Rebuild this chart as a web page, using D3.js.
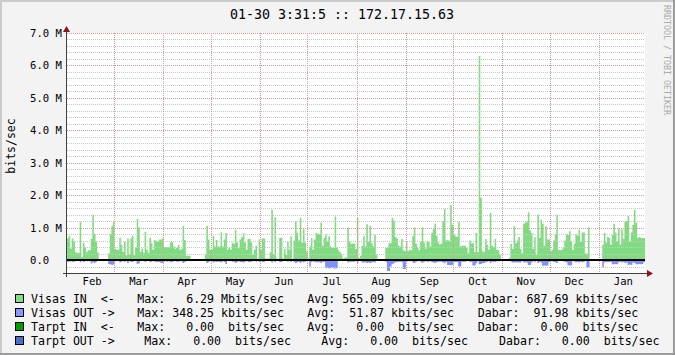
<!DOCTYPE html>
<html>
<head>
<meta charset="utf-8">
<script src="https://cdn.jsdelivr.net/npm/d3@7"></script>
<style>
  body { margin: 0; background: #fff; }
  svg text { font-family: "DejaVu Sans Mono", monospace; fill: #000; white-space: pre; }
</style>
</head>
<body>
<div id="chart"></div>
<script>
// daily averages, Mbit/s, one value per day starting 01-30 (null = no data)
const visasIn = [
  0.66, 0.75, 0.35, 0.66, 0.57, 0.24, 0.22, 0.22, 1.18, 0.09,
  0.53, 0.41, 0.24, 0.30, 0.30, 0.65, 1.40, 0.80, 0.57, 0.24,
  null, null, null, null, null, null, 0.20, 0.80, 1.05, 1.19,
  0.34, 0.32, 0.32, 0.69, 0.46, 0.25, 0.56, 0.15, 0.66, 0.17,
  0.66, 0.75, 0.15, 0.39, 1.27, 1.00, 0.25, 0.35, 0.22, 0.87,
  0.32, 0.22, 0.69, 0.52, 0.32, 0.62, 0.58, 0.58, 0.63, 0.63,
  0.66, 0.40, 0.39, 0.40, 0.39, 0.55, 0.55, 0.42, 0.35, 0.38,
  0.46, 0.30, 0.35, 1.06, 0.62, 0.13, 0.13, 0.13, null, null,
  null, null, null, null, null, null, null, 0.18, 1.06, 0.63,
  0.32, 0.32, 0.75, 0.42, 0.62, 0.42, 0.42, 0.86, 0.42, 0.63,
  0.83, 0.32, 0.39, 0.32, 0.53, 0.50, 0.93, 0.54, 0.36, 0.63,
  0.70, 0.83, 0.54, 0.32, 0.65, 0.65, 0.54, 0.16, 0.32, 0.44,
  0.05, 0.63, 0.32, 0.66, 0.66, 0.05, 0.05, 0.05, 0.24, 1.55,
  0.16, 1.32, 0.05, 0.05, 0.69, 0.69, 0.05, 0.35, 0.16, 0.56,
  0.32, 0.73, 0.05, 0.60, 1.20, 0.83, 0.60, 1.30, 0.53, 0.95,
  0.53, 0.26, 0.05, 0.42, 0.68, 0.32, 0.63, 0.83, 0.81, 0.79,
  1.15, 0.44, 0.68, 0.79, 0.56, 0.73, 0.42, 0.37, 0.37, 1.34,
  0.39, 0.30, 0.24, 0.16, 0.05, 0.08, 0.08, 1.00, 0.57, 0.50,
  0.51, 0.51, 0.34, 1.30, 0.06, 0.13, 0.44, 0.73, 0.42, 1.10,
  0.57, 1.06, 0.52, 0.42, 0.78, 0.16, null, null, null, null,
  null, 0.37, 0.39, 0.52, 0.52, 1.30, 1.22, 0.71, 0.66, 0.44,
  0.42, 0.65, 0.30, 0.27, 0.55, 0.27, 0.32, 0.30, 0.73, 1.00,
  0.50, 0.37, 0.30, 0.56, 1.00, 0.54, 0.35, 0.57, 0.56, 0.42,
  0.83, 0.95, 1.12, 0.75, 0.54, 0.48, 0.50, 1.20, 1.57, 0.60,
  0.62, 0.58, 1.70, 1.09, 0.78, 0.73, 0.71, 1.17, 0.42, 0.44,
  0.44, 0.44, 0.37, 0.21, 0.60, 0.52, 0.52, 0.24, 0.83, 0.24,
  6.29, 1.92, 0.27, 0.24, 0.65, 0.47, 0.32, 1.45, 0.44, 0.40,
  0.65, 0.32, 0.30, 0.16, null, null, null, null, null, 0.06,
  0.50, 0.34, 1.04, 0.52, 0.60, 0.71, 0.34, 0.21, 1.12, 1.16,
  1.18, 1.47, 0.91, 0.83, 0.34, 0.70, 0.16, 1.40, 0.68, 1.24,
  1.12, 0.44, 1.04, 0.63, 0.63, 0.27, 0.32, 0.60, 0.81, 1.40,
  0.32, 0.30, 0.32, 0.36, 0.60, 0.79, 0.77, 0.89, 0.57, 0.32,
  0.50, 0.79, 0.75, 0.93, 0.57, 0.85, 0.85, 0.20, 0.20, 1.00,
  null, null, null, null, null, null, null, null, 0.47, 0.83,
  0.54, 0.71, 0.68, 0.47, 0.78, 1.12, 0.85, 0.57, 0.98, 0.47,
  0.95, 0.65, 1.17, 1.20, 1.36, 0.57, 0.85, 1.08, 1.55, 1.15,
  0.68, 0.71, 0.68, 0.68, 0.68
];

const visasOut = [
  0.05, 0.05, 0.04, 0.05, 0.05, 0.02, 0.02, 0.03, 0.07, 0.02,
  0.06, 0.04, 0.03, 0.03, 0.04, 0.11, 0.06, 0.09, 0.06, 0.03,
  null, null, null, null, null, null, 0.12, 0.13, 0.15, 0.14,
  0.04, 0.03, 0.03, 0.08, 0.05, 0.02, 0.06, 0.02, 0.09, 0.02,
  0.06, 0.06, 0.02, 0.04, 0.12, 0.10, 0.03, 0.03, 0.02, 0.06,
  0.03, 0.02, 0.06, 0.05, 0.03, 0.05, 0.06, 0.06, 0.06, 0.09,
  0.09, 0.05, 0.04, 0.05, 0.04, 0.07, 0.06, 0.04, 0.04, 0.05,
  0.05, 0.03, 0.04, 0.09, 0.06, 0.02, 0.02, 0.02, null, null,
  null, null, null, null, null, null, null, 0.03, 0.09, 0.07,
  0.03, 0.03, 0.08, 0.05, 0.06, 0.05, 0.05, 0.08, 0.04, 0.06,
  0.12, 0.03, 0.04, 0.03, 0.05, 0.05, 0.09, 0.06, 0.04, 0.06,
  0.07, 0.08, 0.05, 0.03, 0.06, 0.06, 0.05, 0.02, 0.03, 0.05,
  0.01, 0.06, 0.03, 0.06, 0.06, 0.01, 0.01, 0.01, 0.03, 0.08,
  0.02, 0.07, 0.01, 0.01, 0.06, 0.06, 0.01, 0.04, 0.02, 0.05,
  0.03, 0.06, 0.01, 0.05, 0.09, 0.07, 0.05, 0.09, 0.05, 0.07,
  0.05, 0.03, 0.01, 0.20, 0.06, 0.04, 0.06, 0.07, 0.07, 0.07,
  0.09, 0.05, 0.06, 0.25, 0.24, 0.26, 0.25, 0.24, 0.26, 0.26,
  0.25, 0.03, 0.02, 0.01, 0.01, 0.02, 0.02, 0.08, 0.05, 0.05,
  0.05, 0.05, 0.03, 0.09, 0.01, 0.02, 0.08, 0.08, 0.07, 0.09,
  0.08, 0.09, 0.08, 0.06, 0.08, 0.02, null, null, null, null,
  null, 0.05, 0.34, 0.34, 0.20, 0.12, 0.10, 0.07, 0.06, 0.05,
  0.05, 0.06, 0.28, 0.28, 0.05, 0.03, 0.04, 0.03, 0.08, 0.09,
  0.05, 0.04, 0.03, 0.05, 0.09, 0.05, 0.04, 0.05, 0.05, 0.04,
  0.07, 0.08, 0.09, 0.07, 0.05, 0.05, 0.05, 0.08, 0.10, 0.06,
  0.15, 0.15, 0.16, 0.15, 0.07, 0.06, 0.06, 0.20, 0.20, 0.05,
  0.05, 0.05, 0.04, 0.03, 0.06, 0.05, 0.17, 0.17, 0.10, 0.04,
  0.13, 0.12, 0.09, 0.09, 0.06, 0.05, 0.04, 0.09, 0.05, 0.05,
  0.06, 0.04, 0.04, 0.02, null, null, null, null, null, 0.01,
  0.05, 0.08, 0.08, 0.07, 0.08, 0.08, 0.08, 0.03, 0.07, 0.07,
  0.08, 0.15, 0.15, 0.08, 0.04, 0.06, 0.03, 0.09, 0.06, 0.08,
  0.18, 0.17, 0.18, 0.17, 0.06, 0.03, 0.04, 0.06, 0.07, 0.09,
  0.03, 0.03, 0.03, 0.04, 0.05, 0.07, 0.16, 0.17, 0.16, 0.03,
  0.05, 0.07, 0.06, 0.08, 0.05, 0.07, 0.06, 0.03, 0.22, 0.22,
  null, null, null, null, null, null, null, null, 0.22, 0.08,
  0.06, 0.07, 0.06, 0.05, 0.13, 0.13, 0.12, 0.13, 0.07, 0.05,
  0.08, 0.06, 0.09, 0.08, 0.15, 0.14, 0.15, 0.08, 0.09, 0.13,
  0.13, 0.12, 0.13, 0.12, 0.06
];

const yTicks = [0, 1, 2, 3, 4, 5, 6, 7];
const yTickLabels = ["0.0", "1.0 M", "2.0 M", "3.0 M", "4.0 M", "5.0 M", "6.0 M", "7.0 M"];

const titleText = "01-30 3:31:5 :: 172.17.15.63";
const yAxisTitle = "bits/sec";
const watermark = "RRDTOOL / TOBI OETIKER";

const legendColors = ["#80e080", "#8898ff", "#00a000", "#4d6dcc"];
const legendLines = [
  ["Visas IN  <-", "Max:   6.29 Mbits/sec", "Avg: 565.09 kbits/sec", "Dabar: 687.69 kbits/sec"],
  ["Visas OUT ->", "Max: 348.25 kbits/sec", "Avg:  51.87 kbits/sec", "Dabar:  91.98 kbits/sec"],
  ["Tarpt IN  <-", "Max:   0.00  bits/sec", "Avg:   0.00  bits/sec", "Dabar:   0.00  bits/sec"],
  ["Tarpt OUT ->", "Max:   0.00  bits/sec", "Avg:   0.00  bits/sec", "Dabar:   0.00  bits/sec"]
];

const W = 675, H = 355;
const plot = { left: 67, right: 645, top: 33, bottom: 273 };

const startTime = new Date(2010, 0, 30, 3, 31, 5);
const endTime = d3.timeDay.offset(startTime, 365);

const x = d3.scaleTime().domain([startTime, endTime]).range([plot.left, plot.right]);
const y = d3.scaleLinear().domain([-0.4, 7.0]).range([plot.bottom, plot.top]);

const svg = d3.select("#chart").append("svg")
    .attr("width", W)
    .attr("height", H);

// background + 3d border
svg.append("rect").attr("width", W).attr("height", H).attr("fill", "#f3f3f3");
svg.append("path").attr("d", `M0,0H${W}V2H2V${H}H0Z`).attr("fill", "#cbcbcb");
svg.append("path").attr("d", `M${W},${H}H0V${H - 2}H${W - 2}V0H${W}Z`).attr("fill", "#9a9a9a");

// canvas
svg.append("rect")
    .attr("x", plot.left).attr("y", plot.top)
    .attr("width", plot.right - plot.left).attr("height", plot.bottom - plot.top)
    .attr("fill", "#ffffff");

// turn daily values into step points so every day is a flat block
function stepPoints(values, sign) {
  const pts = [];
  values.forEach((v, i) => {
    const t0 = d3.timeDay.offset(startTime, i);
    const t1 = d3.timeDay.offset(startTime, i + 1);
    if (v == null) {
      pts.push({ t: t0, v: null });
    } else {
      pts.push({ t: t0, v: sign * v }, { t: t1, v: sign * v });
    }
  });
  return pts;
}

const area = d3.area()
    .defined(d => d.v != null)
    .x(d => x(d.t))
    .y0(y(0))
    .y1(d => y(d.v));

svg.append("path")
    .datum(stepPoints(visasIn, 1))
    .attr("fill", "#80dc80")
    .attr("d", area);

svg.append("path")
    .datum(stepPoints(visasOut, -1))
    .attr("fill", "#8090ff")
    .attr("d", area);

// grid (drawn over the data, like rrdtool)
const grid = svg.append("g").attr("fill", "none").attr("stroke-width", 1);
const minorVals = d3.range(-2, 36).map(i => i / 5).filter(v => Math.abs(v - Math.round(v)) > 1e-6);

grid.selectAll(".minor")
  .data(minorVals)
  .join("line")
    .attr("x1", plot.left).attr("x2", plot.right)
    .attr("y1", d => Math.round(y(d)) + 0.5).attr("y2", d => Math.round(y(d)) + 0.5)
    .attr("stroke", "#c8c8c8")
    .attr("stroke-dasharray", "1,1");

const months = d3.timeMonth.range(d3.timeMonth.ceil(startTime), endTime);

grid.selectAll(".vgrid")
  .data(months.filter(m => x(m) > plot.left + 5))
  .join("line")
    .attr("x1", d => Math.round(x(d)) + 0.5).attr("x2", d => Math.round(x(d)) + 0.5)
    .attr("y1", plot.top).attr("y2", plot.bottom)
    .attr("stroke", "#e89494")
    .attr("stroke-dasharray", "1,1");

grid.selectAll(".major")
  .data(yTicks)
  .join("line")
    .attr("x1", plot.left).attr("x2", plot.right)
    .attr("y1", d => Math.round(y(d)) + 0.5).attr("y2", d => Math.round(y(d)) + 0.5)
    .attr("stroke", "#e89494")
    .attr("stroke-dasharray", "1,1");

// zero rule
svg.append("line")
    .attr("x1", plot.left).attr("x2", plot.right)
    .attr("y1", y(0)).attr("y2", y(0))
    .attr("stroke", "#000").attr("stroke-width", 2);

// axes
svg.append("line")
    .attr("x1", plot.left - 0.5).attr("x2", plot.left - 0.5)
    .attr("y1", plot.top - 4).attr("y2", plot.bottom + 4)
    .attr("stroke", "#404040");
svg.append("line")
    .attr("x1", plot.left - 4).attr("x2", plot.right + 4)
    .attr("y1", plot.bottom + 0.5).attr("y2", plot.bottom + 0.5)
    .attr("stroke", "#404040");

// arrows
svg.append("path")
    .attr("d", `M${plot.left - 4},${plot.top - 1}L${plot.left + 3},${plot.top - 1}L${plot.left - 0.5},${plot.top - 7}Z`)
    .attr("fill", "#8b1414");
svg.append("path")
    .attr("d", `M${plot.right + 2},${plot.bottom - 3}L${plot.right + 2},${plot.bottom + 4}L${plot.right + 8},${plot.bottom + 0.5}Z`)
    .attr("fill", "#8b1414");

// y labels
svg.selectAll(".ylab")
  .data(yTicks)
  .join("text")
    .attr("x", 30)
    .attr("y", d => y(d) + 4)
    .attr("font-size", "10.6px")
    .text((d, i) => yTickLabels[i]);

// month labels, centred in their month
svg.selectAll(".xlab")
  .data(d3.timeMonth.range(d3.timeMonth.floor(d3.timeDay.offset(startTime, 5)), endTime))
  .join("text")
    .attr("x", d => (x(d) + x(d3.timeMonth.offset(d, 1))) / 2)
    .attr("y", 285)
    .attr("text-anchor", "middle")
    .attr("font-size", "10.6px")
    .text(d => d3.timeFormat("%b")(d));

// title
svg.append("text")
    .attr("x", 342)
    .attr("y", 19)
    .attr("text-anchor", "middle")
    .attr("font-size", "13.3px")
    .text(titleText);

// vertical axis title
svg.append("text")
    .attr("transform", "translate(15,146) rotate(-90)")
    .attr("text-anchor", "middle")
    .attr("font-size", "11.5px")
    .text(yAxisTitle);

// watermark
svg.append("text")
    .attr("transform", "translate(663.5,5) rotate(90)")
    .attr("font-size", "8.3px")
    .style("fill", "#aaaaaa")
    .text(watermark);

// legend
const legendX = [31, 137.3, 307.3, 477.7];
const legendXJustified = [31, 144.3, 321.3, 499];
const rowY = [299, 313, 327, 341];

legendLines.forEach((parts, r) => {
  svg.append("rect")
      .attr("x", 15.5).attr("y", rowY[r] - 4.5)
      .attr("width", 8).attr("height", 8)
      .attr("fill", legendColors[r])
      .attr("stroke", "#000");
  const cols = r === legendLines.length - 1 ? legendXJustified : legendX;
  parts.forEach((p, c) => {
    svg.append("text")
        .attr("x", cols[c])
        .attr("y", rowY[r] + 4)
        .attr("font-size", "11.6px")
        .text(p);
  });
});
</script>
</body>
</html>
